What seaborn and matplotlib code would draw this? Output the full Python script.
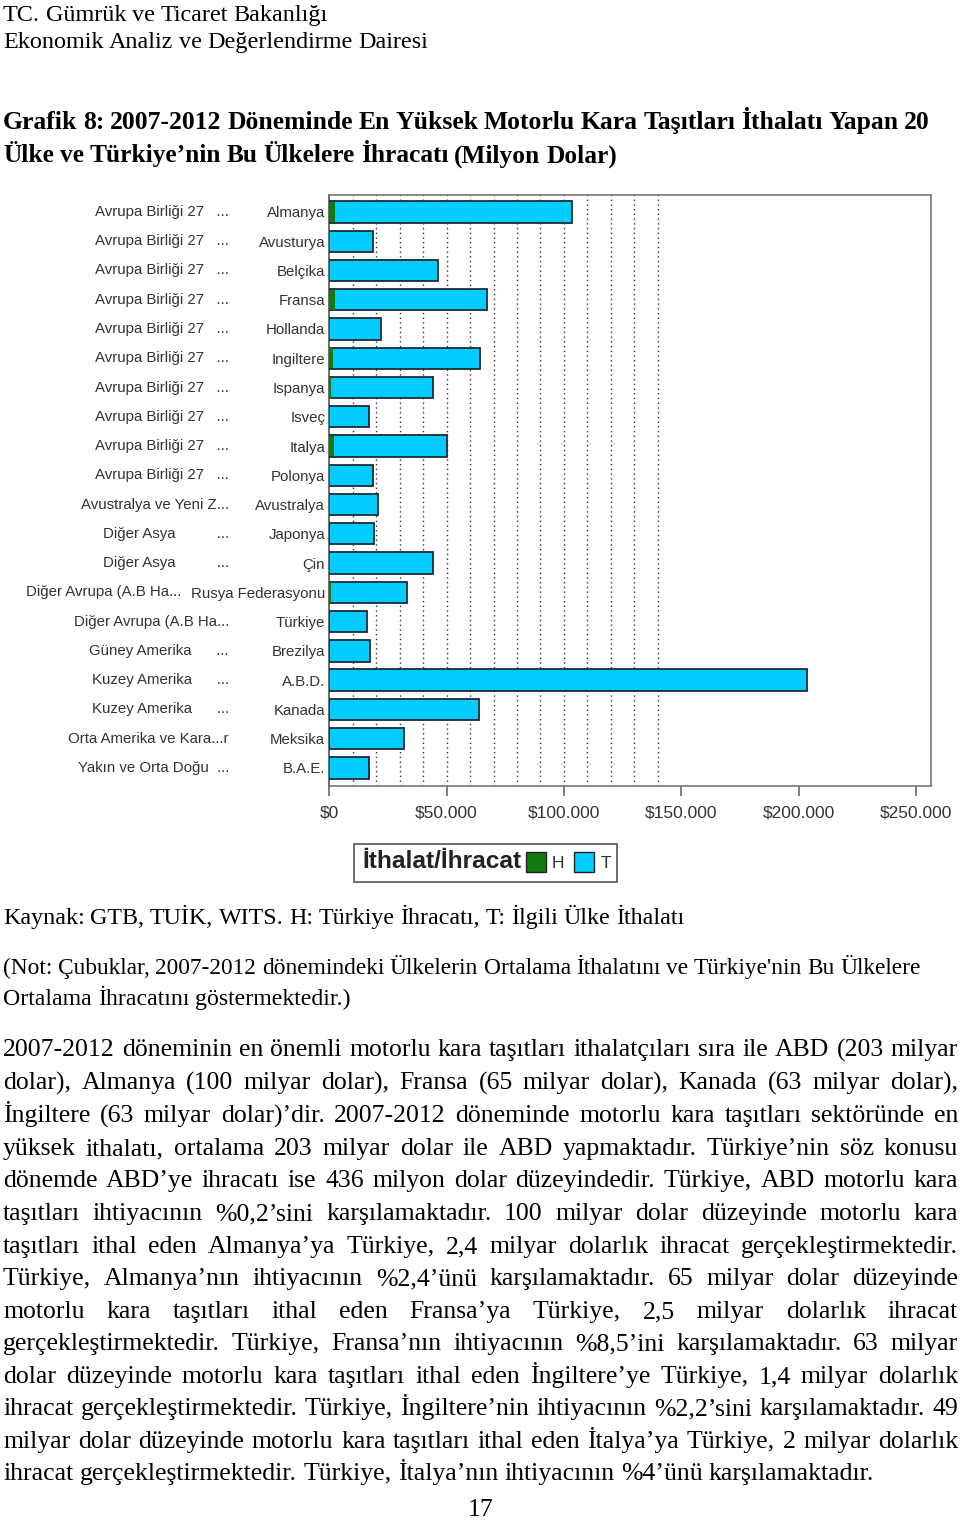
import matplotlib
matplotlib.use("Agg")
import matplotlib.pyplot as plt
import matplotlib.transforms as mtransforms
from matplotlib.patches import Patch, Rectangle
from matplotlib.ticker import FixedLocator, FuncFormatter
import numpy as np
import pandas as pd
import seaborn as sns

# ---------------- data (million USD) ----------------
countries = ["Almanya", "Avusturya", "Belçika", "Fransa", "Hollanda", "Ingiltere",
             "Ispanya", "Isveç", "Italya", "Polonya", "Avustralya", "Japonya", "Çin",
             "Rusya Federasyonu", "Türkiye", "Brezilya", "A.B.D.", "Kanada", "Meksika",
             "B.A.E."]
regions = ["Avrupa Birliği 27   ..."] * 10 + [
    "Avustralya ve Yeni Z...", "Diğer Asya          ...", "Diğer Asya          ...",
    "Diğer Avrupa (A.B Ha...", "Diğer Avrupa (A.B Ha...", "Güney Amerika      ...",
    "Kuzey Amerika      ...", "Kuzey Amerika      ...", "Orta Amerika ve Kara...r",
    "Yakın ve Orta Doğu  ..."]
imports_T = [103300, 18500, 46300, 67300, 22000, 64300, 44300, 16900, 50300, 18500,
             20900, 19000, 44300, 33000, 15900, 17500, 203600, 63900, 32000, 17000]
exports_H = [2400, 250, 450, 2500, 350, 1400, 600, 200, 2000, 450,
             100, 60, 100, 900, 0, 50, 436, 60, 50, 350]
x_ticks = [0, 50000, 100000, 150000, 200000, 250000]
grid_ticks = list(range(10000, 150000, 10000))
legend_title = "İthalat/İhracat"
legend_labels = ["H", "T"]

header_lines = ["TC. Gümrük ve Ticaret Bakanlığı", "Ekonomik Analiz ve Değerlendirme Dairesi"]
title_lines = ["Grafik 8: 2007-2012 Döneminde En Yüksek Motorlu Kara Taşıtları İthalatı Yapan 20",
               "Ülke ve Türkiye’nin Bu Ülkelere İhracatı (Milyon Dolar)"]
source_line = "Kaynak: GTB, TUİK, WITS. H: Türkiye İhracatı, T: İlgili Ülke İthalatı"
note_lines = ["(Not: Çubuklar, 2007-2012 dönemindeki Ülkelerin Ortalama İthalatını ve Türkiye'nin Bu Ülkelere",
              "Ortalama İhracatını göstermektedir.)"]
body_lines = [
    "2007-2012 döneminin en önemli motorlu kara taşıtları ithalatçıları sıra ile ABD (203 milyar",
    "dolar), Almanya (100 milyar dolar), Fransa (65 milyar dolar), Kanada (63 milyar dolar),",
    "İngiltere (63 milyar dolar)’dir. 2007-2012 döneminde motorlu kara taşıtları sektöründe en",
    "yüksek ithalatı, ortalama 203 milyar dolar ile ABD yapmaktadır. Türkiye’nin söz konusu",
    "dönemde ABD’ye ihracatı ise 436 milyon dolar düzeyindedir. Türkiye, ABD motorlu kara",
    "taşıtları ihtiyacının %0,2’sini karşılamaktadır. 100 milyar dolar düzeyinde motorlu kara",
    "taşıtları ithal eden Almanya’ya Türkiye, 2,4 milyar dolarlık ihracat gerçekleştirmektedir.",
    "Türkiye, Almanya’nın ihtiyacının %2,4’ünü karşılamaktadır. 65 milyar dolar düzeyinde",
    "motorlu kara taşıtları ithal eden Fransa’ya Türkiye, 2,5 milyar dolarlık ihracat",
    "gerçekleştirmektedir. Türkiye, Fransa’nın ihtiyacının %8,5’ini karşılamaktadır. 63 milyar",
    "dolar düzeyinde motorlu kara taşıtları ithal eden İngiltere’ye Türkiye, 1,4 milyar dolarlık",
    "ihracat gerçekleştirmektedir. Türkiye, İngiltere’nin ihtiyacının %2,2’sini karşılamaktadır.  49",
    "milyar dolar düzeyinde motorlu kara taşıtları ithal eden İtalya’ya Türkiye, 2 milyar dolarlık",
    "ihracat gerçekleştirmektedir. Türkiye, İtalya’nın ihtiyacının %4’ünü karşılamaktadır.",
]
page_number = "17"

# ---------------- style ----------------
sns.set_style("white")
plt.rcParams["font.family"] = ["Liberation Sans", "DejaVu Sans"]

W, H = 960, 1521
BLUE = "#00CCFF"
GREEN = "#117A11"
EDGE = "#1c2b35"
TXT = "#333333"
SERIF = ["Liberation Serif", "DejaVu Serif"]

fig = plt.figure(figsize=(W / 100, H / 100), dpi=100)
fig.patch.set_facecolor("white")

ax_left, ax_right, ax_top, ax_bottom = 329.3, 930.7, 195, 786
ax = fig.add_axes([ax_left / W, 1 - ax_bottom / H, (ax_right - ax_left) / W, (ax_bottom - ax_top) / H])

df = pd.DataFrame({"country": countries, "T": imports_T, "H": exports_H})
sns.barplot(data=df, x="T", y="country", order=countries, orient="h", color=BLUE,
            saturation=1, edgecolor=EDGE, linewidth=1.3, width=0.73, ax=ax, zorder=3)
sns.barplot(data=df, x="H", y="country", order=countries, orient="h", color=GREEN,
            saturation=1, linewidth=0, width=0.70, ax=ax, zorder=4)

ax.set_xlim(0, 256300)
ax.set_ylim(19.62, -0.58)
ax.set_xlabel("")
ax.set_ylabel("")
ax.set_xticks(x_ticks)
ax.xaxis.set_major_formatter(FuncFormatter(lambda v, p: "$" + f"{int(v):,}".replace(",", ".")))
ax.xaxis.set_minor_locator(FixedLocator(grid_ticks))
ax.xaxis.remove_overlapping_locs = False
ax.grid(False)
ax.grid(True, which="minor", axis="x", linestyle=(0, (1, 2.4)), color="#333333", linewidth=1.0, zorder=0)
ax.set_axisbelow(True)
ax.tick_params(axis="x", which="minor", length=0)
ax.tick_params(axis="x", which="major", length=7.5, width=1.2, color="#666666",
               labelsize=12.5, labelcolor=TXT, pad=6.5, direction="out", bottom=True)
ax.tick_params(axis="y", length=0, labelsize=10.8, labelcolor=TXT, pad=3)
for sp in ax.spines.values():
    sp.set_visible(True)
    sp.set_color("#777777")
    sp.set_linewidth(1.2)
ax.spines["left"].set_color("#555555")

fig.canvas.draw()
renderer = fig.canvas.get_renderer()

# region labels to the left of the country labels
blend = mtransforms.blended_transform_factory(fig.transFigure, ax.transData)
for i, lab in enumerate(ax.get_yticklabels()):
    bb = lab.get_window_extent(renderer)
    xr = min(229.0, bb.x0 - 10)
    fig.text(xr / W, i, regions[i], transform=blend, ha="right", va="center",
             fontsize=10.8, color=TXT)


def text_width(s, **kw):
    t = fig.text(0, 0, s, **kw)
    w = t.get_window_extent(renderer).width
    t.remove()
    return w


def words_line(line, x0, x1, yb, fs, **kw):
    """Place words of a line between x0 and x1 (justified), on a common baseline."""
    words = line.split()
    ws = [text_width(w_, fontsize=fs, **kw) for w_ in words]
    gap = (x1 - x0 - sum(ws)) / max(len(words) - 1, 1)
    x = x0
    for w_, wd in zip(words, ws):
        fig.text(x / W, 1 - yb / H, w_, fontsize=fs, ha="left", va="baseline", **kw)
        x += wd + gap


def fit_line(s, x0, x1, yc, base=12.0, **kw):
    """Size a line so its natural width spans x0..x1, then draw it word by word."""
    w = text_width(s, fontsize=base, **kw)
    fs = base * (x1 - x0) / w
    yb = yc + 0.32 * fs * 100 / 72
    words_line(s, x0, x1, yb, fs, **kw)
    return fs


# legend
fig.add_artist(Rectangle((354 / W, 1 - 882 / H), 263 / W, 38 / H, transform=fig.transFigure,
                         fill=False, edgecolor="#555555", linewidth=1.2))
wt = text_width(legend_title, fontsize=12, family=["Liberation Sans", "DejaVu Sans"], fontweight="bold")
fig.text(362 / W, 1 - 861 / H, legend_title, fontsize=12 * 159 / wt, ha="left", va="center",
         family=["Liberation Sans", "DejaVu Sans"], fontweight="bold", color="#222222")
leg = fig.legend(handles=[Patch(facecolor=GREEN, edgecolor="#222222"),
                          Patch(facecolor=BLUE, edgecolor="#222222")],
                 labels=legend_labels, ncol=2, loc="center left",
                 bbox_to_anchor=(526 / W, 1 - 862 / H), frameon=False, fontsize=12.5,
                 handlelength=1.15, handleheight=1.45, handletextpad=0.35,
                 columnspacing=0.55, borderpad=0, borderaxespad=0)
for t in leg.get_texts():
    t.set_color(TXT)

# header and title
fit_line(header_lines[0], 3, 328, 13, family=SERIF, color="black")
fit_line(header_lines[1], 3, 428, 40, family=SERIF, color="black")
fit_line(title_lines[0], 3, 930, 121, family=SERIF, fontweight="bold", color="black")
fit_line(title_lines[1], 3, 617, 154, family=SERIF, fontweight="bold", color="black")

# source / note
fit_line(source_line, 3, 684, 916, family=SERIF, color="black")
fit_line(note_lines[0], 3, 921, 967, family=SERIF, color="black")
fit_line(note_lines[1], 3, 351, 997, family=SERIF, color="black")

# body (justified)
body_y = [1048, 1081, 1114, 1147, 1179, 1212, 1245, 1277, 1310, 1342, 1375, 1407, 1440, 1472]
base = 12.0
w_last = text_width(body_lines[-1], fontsize=base, family=SERIF)
fs_body = base * (871 - 3) / w_last
for ln in body_lines[:-1]:
    wn = text_width(ln, fontsize=fs_body, family=SERIF)
    if wn > 955:
        fs_body *= 955 / wn
base_off = 0.32 * fs_body * 100 / 72  # baseline offset from visual centre (px)
for ln, y in zip(body_lines[:-1], body_y[:-1]):
    words_line(ln, 3, 958, y + base_off, fs_body, family=SERIF, color="black")
w_nat = text_width(body_lines[-1], fontsize=fs_body, family=SERIF)
words_line(body_lines[-1], 3, 3 + w_nat, body_y[-1] + base_off, fs_body, family=SERIF, color="black")

fig.text(481 / W, 1 - 1510 / H, page_number, fontsize=fs_body, ha="center", va="center",
         family=SERIF, color="black")

fig.savefig("out.png", dpi=100, facecolor="white")
